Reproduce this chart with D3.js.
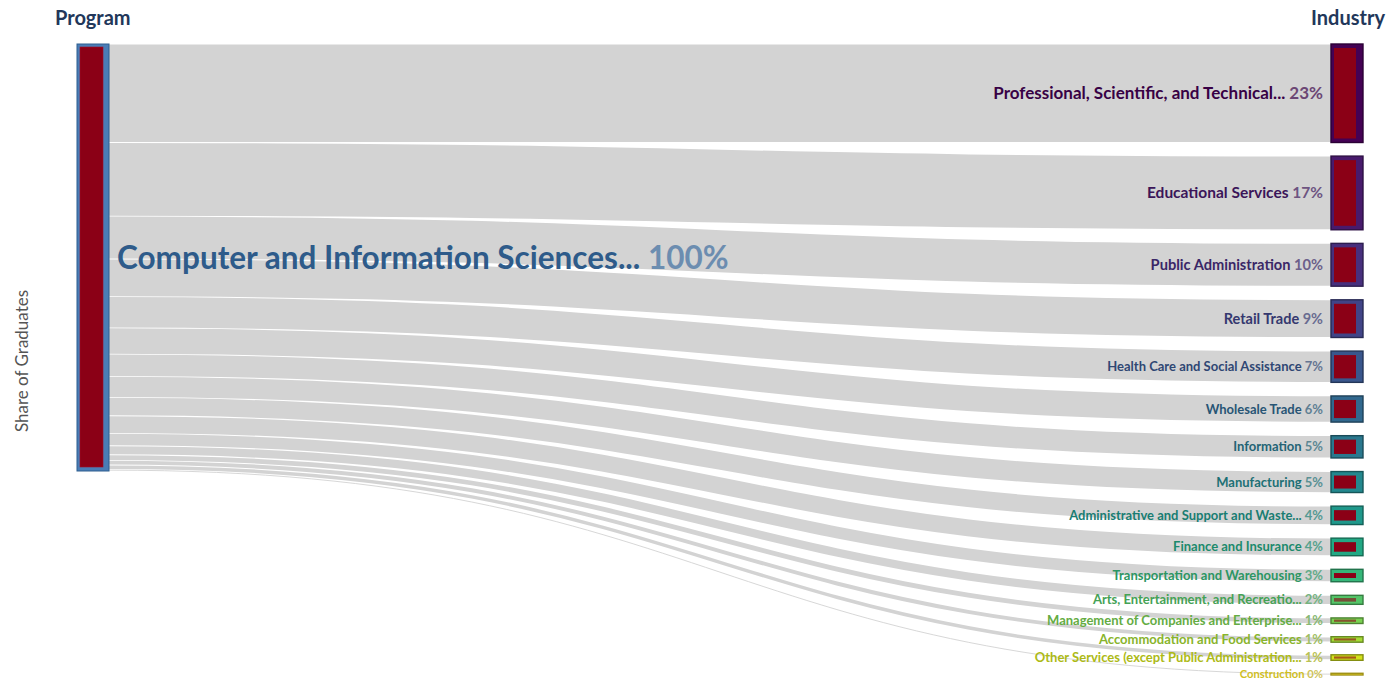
<!DOCTYPE html>
<html>
<head>
<meta charset="utf-8">
<script src="https://cdn.jsdelivr.net/npm/d3@7"></script>
<style>
  body { margin: 0; background: #fff; }
  text { font-family: Lato, "Open Sans", sans-serif; }
</style>
</head>
<body>
<div class="chart"></div>
<script>
// data
var programs = ["Computer and Information Sciences..."];
var industries = [
  "Professional, Scientific, and Technical...",
  "Educational Services",
  "Public Administration",
  "Retail Trade",
  "Health Care and Social Assistance",
  "Wholesale Trade",
  "Information",
  "Manufacturing",
  "Administrative and Support and Waste...",
  "Finance and Insurance",
  "Transportation and Warehousing",
  "Arts, Entertainment, and Recreatio...",
  "Management of Companies and Enterprise...",
  "Accommodation and Food Services",
  "Other Services (except Public Administration...",
  "Construction"
];
var shares = [23.0, 17.2, 10.0, 8.8, 7.3, 6.1, 5.2, 4.9, 4.3, 4.1, 2.9, 2.1, 1.3, 1.1, 1.0, 0.4];
var columns = ["Program", "Industry"];

// set the dimensions of the graph
var width = 1399;
var height = 682;
var plotTop = 44, plotBottom = 675;
var nodeWidth = 32;
var labelGap = 8;

var total = d3.sum(shares);

var svg = d3.select(".chart")
  .append("svg")
    .attr("width", width)
    .attr("height", height)

// columns
var x = d3.scalePoint()
  .domain(columns)
  .range([77, 1331]);

// value -> pixel height, left node fills 427px
var y = d3.scaleLinear()
  .domain([0, total])
  .range([0, 427]);

var gap = (plotBottom - plotTop - y(total)) / (industries.length - 1);

var color = d3.scaleSequential(d3.interpolateViridis)
  .domain([0, industries.length - 1]);

var fontSize = d3.scaleLinear()
  .domain([0.4, 1, 7.3, 8.8, 17.2, 23])
  .range([11.2, 13, 13, 14.5, 15.5, 17])
  .clamp(true);

// build nodes and links
var rightNodes = [];
var links = [];
var yr = plotTop, yl = plotTop;
industries.forEach(function(name, i) {
  var h = y(shares[i]);
  rightNodes.push({name: name, value: shares[i], y0: yr, y1: yr + h, i: i});
  links.push({h: h, sy: yl + h / 2, ty: yr + h / 2, i: i});
  yr += h + gap;
  yl += h;
});

// links
var link = d3.linkHorizontal()
  .source(function(d) { return [x("Program") + nodeWidth, d.sy]; })
  .target(function(d) { return [x("Industry"), d.ty]; });

svg.append("g")
  .selectAll("path")
  .data(links)
  .enter()
  .append("path")
    .attr("d", link)
    .style("fill", "none")
    .style("stroke", "#d3d3d3")
    .style("stroke-width", function(d) { return Math.max(0.8, d.h - 0.8); });

// left node
var lg = svg.append("g");
lg.append("rect")
  .attr("x", x("Program"))
  .attr("y", plotTop)
  .attr("width", nodeWidth)
  .attr("height", y(total))
  .style("fill", "#4a7db6")
  .style("stroke", "#2f5f8f")
  .style("stroke-width", 1);
lg.append("rect")
  .attr("x", x("Program") + 3)
  .attr("y", plotTop + 3)
  .attr("width", nodeWidth - 9)
  .attr("height", y(total) - 7)
  .style("fill", "#8b0016")
  .style("stroke", "#a0102a")
  .style("stroke-width", 0.6);

var leftLabel = lg.append("text")
  .attr("x", x("Program") + nodeWidth + 8)
  .attr("y", plotTop + y(total) / 2)
  .attr("dy", ".35em")
  .style("font-size", "31.5px")
  .style("font-weight", "bold");
leftLabel.append("tspan")
  .style("fill", "#2e5b8a")
  .text(programs[0] + " ");
leftLabel.append("tspan")
  .style("fill", "#6c8db0")
  .text(d3.format(".0f")(total) + "%");

// right nodes
var node = svg.append("g")
  .selectAll("g")
  .data(rightNodes)
  .enter()
  .append("g");

// small nodes get a minimum visible height, centred on their slot
function boxH(d) { return Math.max(d.value < 0.5 ? 1.5 : 5.5, d.y1 - d.y0); }
function boxY(d) { return (d.y0 + d.y1) / 2 - boxH(d) / 2; }

node.append("rect")
  .attr("x", x("Industry"))
  .attr("y", boxY)
  .attr("width", nodeWidth)
  .attr("height", boxH)
  .style("fill", function(d) { return color(d.i); })
  .style("stroke", function(d) { return d3.color(color(d.i)).darker(1.3); })
  .style("stroke-width", 1.4);

node.filter(function(d) { return d.value >= 0.5; })
  .append("rect")
  .attr("x", x("Industry") + 3)
  .attr("y", function(d) { var h = boxH(d); return boxY(d) + Math.min(4, h * 0.3); })
  .attr("width", nodeWidth - 10)
  .attr("height", function(d) { var h = boxH(d); return Math.max(0.8, h - 2 * Math.min(4, h * 0.3)); })
  .style("fill", "#8b0016")
  .style("opacity", function(d) { return d.y1 - d.y0 > 12 ? 1 : 0.6; });

var label = node.append("text")
  .attr("x", x("Industry") - labelGap)
  .attr("y", function(d) { return (d.y0 + d.y1) / 2; })
  .attr("dy", ".35em")
  .attr("text-anchor", "end")
  .style("font-size", function(d) { return fontSize(d.value) + "px"; })
  .style("font-weight", "bold");
label.append("tspan")
  .style("fill", function(d) { return d3.color(color(d.i)).darker(0.55); })
  .text(function(d) { return d.name + " "; });
label.append("tspan")
  .style("fill", function(d) { return d3.interpolateRgb(color(d.i), "#9a9a9a")(0.45); })
  .text(function(d) { return d3.format(".0f")(d.value) + "%"; });

// column headers
svg.append("text")
  .attr("x", 55)
  .attr("y", 25)
  .style("font-size", "20px")
  .style("font-weight", "bold")
  .style("fill", "#22375a")
  .text(columns[0]);
svg.append("text")
  .attr("x", 1385)
  .attr("y", 25)
  .attr("text-anchor", "end")
  .style("font-size", "20px")
  .style("font-weight", "bold")
  .style("fill", "#22375a")
  .text(columns[1]);

// axis title
svg.append("text")
  .attr("transform", "translate(28," + 361 + ") rotate(-90)")
  .attr("text-anchor", "middle")
  .style("font-size", "17px")
  .style("fill", "#555")
  .text("Share of Graduates");
</script>
</body>
</html>
